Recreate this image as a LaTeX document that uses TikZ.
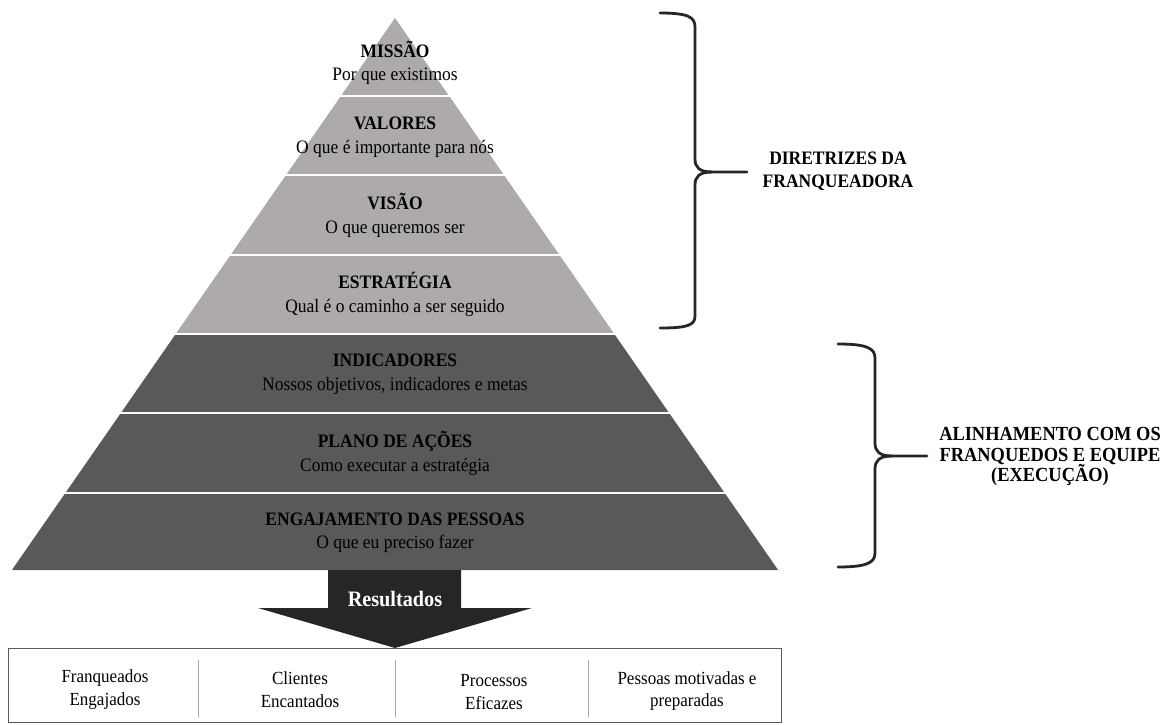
\documentclass[tikz,border=0pt]{standalone}
\usepackage{fontspec}
\setmainfont{Liberation Serif}[FakeStretch=0.92]
\definecolor{lightg}{HTML}{ADAAA9}
\definecolor{darkg}{HTML}{595959}
\definecolor{arrowc}{HTML}{262626}
\definecolor{divc}{HTML}{A6A6A6}
\begin{document}
\begin{tikzpicture}[x=1pt,y=-1pt,
  lvl/.style={font=\fontsize{19}{23.5}\selectfont, align=center, inner sep=0pt, text=black},
  cell/.style={font=\fontsize{18.5}{22.5}\selectfont, align=center, inner sep=0pt},
  side/.style={font=\fontsize{19}{23}\selectfont\bfseries, align=center, inner sep=0pt},
  brace/.style={draw=arrowc, line width=2.8pt, line cap=round, line join=round},
  sep/.style={draw=white, line width=2.2pt},
  divider/.style={draw=divc, line width=1pt}]
\useasboundingbox (0,0) rectangle (1168,725);
% pyramid
\fill[lightg] (395,18) -- (176.4,333) -- (613.6,333) -- cycle;
\fill[darkg] (176.4,333) -- (11.9,570) -- (778.1,570) -- (613.6,333) -- cycle;
\foreach \yy in {96,175,255,334,413,493}{\draw[sep] (0,\yy) -- (800,\yy);}
% level texts
\node[lvl] (missao) at (395,63) {\textbf{MISSÃO}\\Por que existimos};
\node[lvl] (valores) at (395,137) {\textbf{VALORES}\\O que é importante para nós};
\node[lvl] (visao) at (395,215.5) {\textbf{VISÃO}\\O que queremos ser};
\node[lvl] (estrategia) at (395,294.5) {\textbf{ESTRATÉGIA}\\Qual é o caminho a ser seguido};
\node[lvl] (indicadores) at (395,374) {\textbf{INDICADORES}\\Nossos objetivos, indicadores e metas};
\node[lvl] (plano) at (395,453.5) {\textbf{PLANO DE AÇÕES}\\Como executar a estratégia};
\node[lvl] (engaj) at (395,532.5) {\textbf{ENGAJAMENTO DAS PESSOAS}\\O que eu preciso fazer};
% arrow
\fill[arrowc] (328,570) -- (461,570) -- (461,608) -- (532,608) -- (395,648) -- (258,608) -- (328,608) -- cycle;
\node[font=\fontsize{22}{26}\selectfont\bfseries, text=white, inner sep=0pt] (res) at (395,599) {Resultados};
% results box
\node[draw=darkg, line width=1.2pt, minimum width=773pt, minimum height=74pt, inner sep=0pt, anchor=north west] (box) at (8,648) {};
\draw[divider] (198,660) -- (198,717);
\draw[divider] (395,660) -- (395,717);
\draw[divider] (588,660) -- (588,717);
\node[cell] (c1) at (105,689.5) {Franqueados\\Engajados};
\node[cell] (c2) at (300,689.5) {Clientes\\Encantados};
\node[cell] (c3) at (494,692) {Processos\\Eficazes};
\node[cell] (c4) at (687,691) {Pessoas motivadas e\\preparadas};
% braces
\draw[brace] (660,13) .. controls (688,13) and (695,17) .. (695,27) -- (695,159) .. controls (695,167) and (699,172) .. (712,172) -- (747,172);
\draw[brace] (712,172) .. controls (699,172) and (695,177) .. (695,185) -- (695,316) .. controls (695,325) and (688,328) .. (660,328);
\draw[brace] (838,344) .. controls (866,344) and (875,348) .. (875,358) -- (875,443) .. controls (875,451) and (879,456) .. (892,456) -- (927,456);
\draw[brace] (892,456) .. controls (879,456) and (875,461) .. (875,469) -- (875,553) .. controls (875,563) and (866,567) .. (838,567);
\node[side] (dir) at (838,171) {DIRETRIZES DA\\FRANQUEADORA};
\node[side, font=\fontsize{20}{20.5}\selectfont\bfseries] (alin) at (1050,457) {ALINHAMENTO COM OS\\FRANQUEDOS E EQUIPE\\(EXECUÇÃO)};
\end{tikzpicture}
\end{document}
